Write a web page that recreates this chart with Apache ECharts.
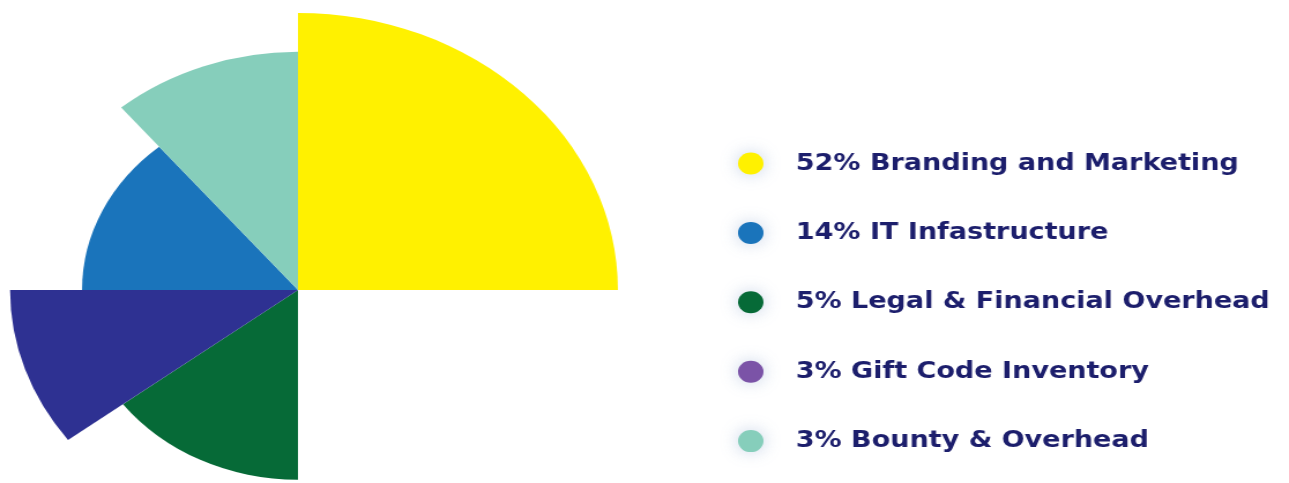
<!doctype html>
<html>

<head>
  <meta charset="utf-8">
  <title>Budget split</title>
  <script src="https://cdn.jsdelivr.net/npm/echarts@6/dist/echarts.min.js"></script>
  <style>
    html,
    body {
      width: 100%;
      height: 100%;
      background-color: #fff;
      padding: 0;
      margin: 0;
      overflow: hidden;
    }

    /* the picture is stretched wider than tall, so draw narrow and scale */
    #main {
      width: 1116px;
      height: 483px;
      transform: scaleX(1.155);
      transform-origin: 0 0;
    }
  </style>
</head>

<body>
  <div id="main"></div>
</body>

<script type="text/javascript">
  // slices, clockwise from 12 o'clock (degrees)
  var sliceNames = ['52% Branding and Marketing', '5% Legal & Financial Overhead', 'Unlisted', '14% IT Infastructure', '3% Bounty & Overhead', '3% Gift Code Inventory'];
  var sliceStart = [0, 180, 233, 270, 320, 0];
  var sliceSweep = [90, 53, 37, 50, 40, 0];
  var sliceRadius = [100, 68.5, 90, 67.5, 86, 0]; // relative, max = 100

  var legendNames = ['52% Branding and Marketing', '14% IT Infastructure', '5% Legal & Financial Overhead', '3% Gift Code Inventory', '3% Bounty & Overhead'];

  var colorOf = {
    '52% Branding and Marketing': '#fff100',
    '14% IT Infastructure': '#1a74bb',
    '5% Legal & Financial Overhead': '#066a37',
    '3% Gift Code Inventory': '#7b53a7',
    '3% Bounty & Overhead': '#86cebb',
    'Unlisted': '#2e3192'
  };

  var maxR = 277; // px for value 100
  var series = [];
  for (var i = 0; i < sliceNames.length; i++) {
    series.push({
      type: 'pie',
      center: [258, 290],
      radius: [0, sliceRadius[i] / 100 * maxR],
      startAngle: 90 - sliceStart[i],
      clockwise: true,
      silent: true,
      label: { show: false },
      labelLine: { show: false },
      itemStyle: { borderWidth: 0 },
      data: [
        { name: sliceNames[i], value: sliceSweep[i], itemStyle: { color: colorOf[sliceNames[i]] } },
        { name: 'rest', value: 360 - sliceSweep[i], itemStyle: { color: 'rgba(0,0,0,0)' } }
      ]
    });
  }

  var option = {
    animation: false,
    legend: {
      orient: 'vertical',
      left: 634,
      top: 147,
      itemWidth: 68,
      itemHeight: 22,
      itemGap: 46.4,
      icon: 'circle',
      selectedMode: false,
      data: legendNames,
      itemStyle: {
        shadowBlur: 16,
        shadowColor: 'rgba(185,200,225,0.8)'
      },
      textStyle: {
        color: '#1c1e6c',
        fontSize: 23.4,
        fontWeight: 'bold',
        fontFamily: 'DejaVu Sans',
        lineHeight: 22
      }
    },
    series: series
  };

  var myChart = echarts.init(document.getElementById('main'));
  myChart.setOption(option);
</script>

</html>
